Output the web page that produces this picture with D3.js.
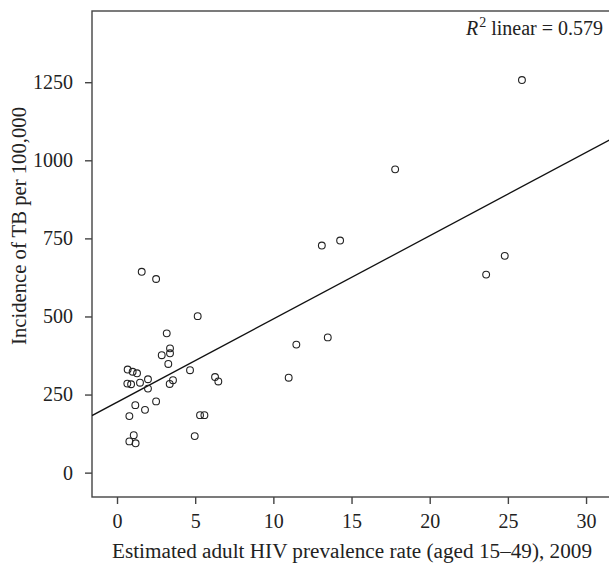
<!DOCTYPE html>
<html>
<head>
<meta charset="utf-8">
<script src="https://cdn.jsdelivr.net/npm/d3@7"></script>
<style>
  html, body { margin: 0; padding: 0; background: #fff; }
  svg { display: block; font-family: "Liberation Serif", "DejaVu Serif", serif; }
</style>
</head>
<body>
<div id="chart"></div>
<script>
// HIV prevalence (%) per country
const hivPrevalence = [
  1.58, 2.50, 5.16, 3.18, 3.39, 3.39, 2.86, 3.28, 0.68, 1.00,
  1.28, 4.67, 6.27, 6.48, 0.66, 0.90, 1.47, 1.98, 1.98, 3.58,
  3.37, 2.50, 1.17, 1.79, 0.79, 5.31, 5.59, 1.07, 0.79, 1.19,
  4.97, 10.98, 11.47, 13.48, 13.10, 14.27, 17.79, 23.61, 24.80, 25.90
];
// TB incidence per 100,000
const tbIncidence = [
  643, 620, 501, 446, 398, 382, 376, 348, 330, 323,
  318, 328, 306, 292, 285, 283, 288, 299, 269, 296,
  284, 228, 216, 201, 181, 184, 184, 120, 100, 94,
  117, 304, 410, 433, 727, 743, 971, 634, 694, 1257
];
const xTicks = [0, 5, 10, 15, 20, 25, 30];
const yTicks = [0, 250, 500, 750, 1000, 1250];
const rSquaredLabel = "0.579";
const xTitle = "Estimated adult HIV prevalence rate (aged 15\u201349), 2009";
const yTitle = "Incidence of TB per 100,000";

const W = 609, H = 566;
const mLeft = 92, mTop = 11, mRight = 609.5, mBottom = 497;

const svg = d3.select("#chart").append("svg")
  .attr("width", W).attr("height", H);

const x = d3.scaleLinear().domain([-1.6, 31.5]).range([mLeft, mRight]);
const y = d3.scaleLinear().domain([-78, 1478]).range([mBottom, mTop]);

// frame
svg.append("rect")
  .attr("x", mLeft).attr("y", mTop)
  .attr("width", 530).attr("height", mBottom - mTop)
  .attr("fill", "none").attr("stroke", "#444").attr("stroke-width", 1.4);

// axes
const xAxis = svg.append("g")
  .attr("transform", `translate(0,${mBottom})`)
  .call(d3.axisBottom(x).tickValues(xTicks).tickSize(7).tickPadding(10).tickFormat(d3.format("d")));
const yAxis = svg.append("g")
  .attr("transform", `translate(${mLeft},0)`)
  .call(d3.axisLeft(y).tickValues(yTicks).tickSize(7).tickPadding(12).tickFormat(d3.format("d")));

[xAxis, yAxis].forEach(g => {
  g.select(".domain").remove();
  g.selectAll(".tick line").attr("stroke", "#444").attr("stroke-width", 1.4);
  g.selectAll(".tick text")
    .attr("fill", "#222")
    .style("font-family", "'Liberation Serif', serif")
    .style("font-size", "20px");
});

// regression line (least squares from data)
const n = hivPrevalence.length;
const mx = d3.mean(hivPrevalence), my = d3.mean(tbIncidence);
let sxy = 0, sxx = 0;
for (let i = 0; i < n; i++) {
  sxy += (hivPrevalence[i] - mx) * (tbIncidence[i] - my);
  sxx += (hivPrevalence[i] - mx) ** 2;
}
const slope = sxy / sxx, intercept = my - slope * mx;
const xd = x.domain();
svg.append("defs").append("clipPath").attr("id", "clip")
  .append("rect").attr("x", mLeft).attr("y", mTop).attr("width", mRight - mLeft).attr("height", mBottom - mTop);
svg.append("line")
  .attr("clip-path", "url(#clip)")
  .attr("x1", x(xd[0])).attr("y1", y(intercept + slope * xd[0]))
  .attr("x2", x(xd[1])).attr("y2", y(intercept + slope * xd[1]))
  .attr("stroke", "#111").attr("stroke-width", 1.3);

// points
svg.append("g").selectAll("circle")
  .data(d3.range(n))
  .join("circle")
  .attr("cx", i => x(hivPrevalence[i]))
  .attr("cy", i => y(tbIncidence[i]))
  .attr("r", 3.4)
  .attr("fill", "none")
  .attr("stroke", "#222")
  .attr("stroke-width", 1.1);

// R^2 label
const rt = svg.append("text")
  .attr("x", 603).attr("y", 35)
  .attr("text-anchor", "end")
  .attr("fill", "#222")
  .style("font-size", "20px");
rt.append("tspan").style("font-style", "italic").text("R");
rt.append("tspan").attr("dy", -8).attr("dx", 1).style("font-size", "14px").text("2");
rt.append("tspan").attr("dy", 8).text(" linear = " + rSquaredLabel);

// axis titles
svg.append("text")
  .attr("x", 352).attr("y", 558)
  .attr("text-anchor", "middle")
  .attr("fill", "#222")
  .style("font-size", "20px")
  .attr("textLength", 480)
  .attr("lengthAdjust", "spacingAndGlyphs")
  .text(xTitle);
svg.append("text")
  .attr("transform", `translate(26,226) rotate(-90)`)
  .attr("text-anchor", "middle")
  .attr("fill", "#222")
  .style("font-size", "20px")
  .attr("textLength", 238)
  .attr("lengthAdjust", "spacingAndGlyphs")
  .text(yTitle);
</script>
</body>
</html>
